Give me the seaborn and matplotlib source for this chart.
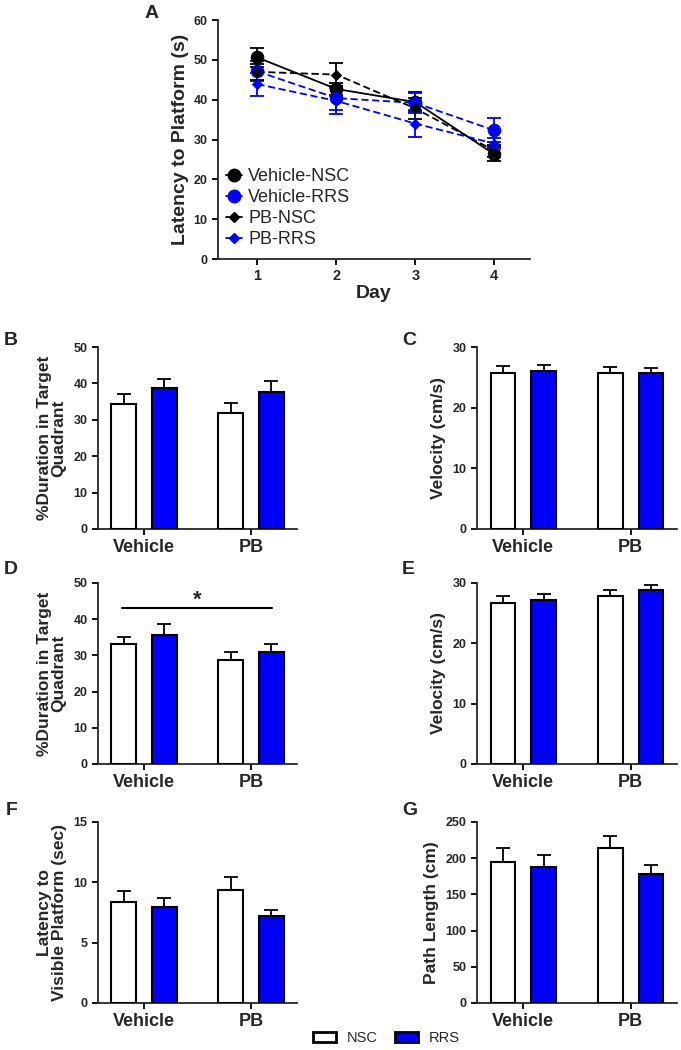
import numpy as np
import pandas as pd
import matplotlib
matplotlib.use("Agg")
import matplotlib.pyplot as plt
from matplotlib.patches import Patch
from matplotlib.lines import Line2D
import seaborn as sns

sns.set_style("ticks")
plt.rcParams["font.family"] = ["Liberation Sans", "DejaVu Sans"]
plt.rcParams["axes.linewidth"] = 1.3

BLUE = "#0000ff"

# ── Panel A: latency over days ───────────────────────────────────────────────
days = [1, 2, 3, 4]
groups_a = ["Vehicle-NSC", "Vehicle-RRS", "PB-NSC", "PB-RRS"]
veh_nsc     = [50.6, 42.7, 39.4, 26.3]
veh_nsc_err = [2.4, 1.5, 2.6, 1.8]
veh_rrs     = [47.1, 40.4, 39.2, 32.3]
veh_rrs_err = [2.5, 3.0, 2.6, 3.0]
pb_nsc      = [47.0, 46.3, 37.8, 27.2]
pb_nsc_err  = [2.0, 2.8, 2.6, 1.5]
pb_rrs      = [43.9, 39.7, 34.0, 29.0]
pb_rrs_err  = [2.9, 3.2, 3.3, 1.4]

# ── Bar panels ───────────────────────────────────────────────────────────────
treatments = ["Vehicle", "PB"]
conds = ["NSC", "RRS"]
b_nsc, b_nsc_err = [34.4, 31.8], [2.7, 2.8]
b_rrs, b_rrs_err = [38.8, 37.6], [2.5, 3.0]
c_nsc, c_nsc_err = [25.7, 25.7], [1.1, 1.05]
c_rrs, c_rrs_err = [26.1, 25.65], [0.9, 0.85]
d_nsc, d_nsc_err = [33.2, 28.8], [1.9, 2.1]
d_rrs, d_rrs_err = [35.5, 31.0], [3.1, 2.1]
e_nsc, e_nsc_err = [26.7, 27.8], [1.2, 1.1]
e_rrs, e_rrs_err = [27.1, 28.9], [1.1, 0.7]
f_nsc, f_nsc_err = [8.4, 9.34], [0.9, 1.1]
f_rrs, f_rrs_err = [7.93, 7.2], [0.8, 0.48]
g_nsc, g_nsc_err = [195.2, 214.0], [18.8, 16.0]
g_rrs, g_rrs_err = [187.4, 177.7], [16.6, 13.3]

fig = plt.figure(figsize=(6.81, 10.5), dpi=100)


def style_axis(ax, xsize, ysize):
    sns.despine(ax=ax)
    ax.tick_params(axis="both", direction="out", length=4, width=1.3, color="black")
    for lab in ax.get_xticklabels():
        lab.set_fontweight("bold"); lab.set_fontsize(xsize)
    for lab in ax.get_yticklabels():
        lab.set_fontweight("bold"); lab.set_fontsize(ysize)


# Panel A
axA = fig.add_axes([0.320, 0.7533, 0.458, 0.2276])
series = {"Vehicle-NSC": (veh_nsc, veh_nsc_err), "Vehicle-RRS": (veh_rrs, veh_rrs_err),
          "PB-NSC": (pb_nsc, pb_nsc_err), "PB-RRS": (pb_rrs, pb_rrs_err)}
dfA = pd.DataFrame([{"Day": d, "Latency": v, "Group": g}
                    for g, (vals, _) in series.items() for d, v in zip(days, vals)])
palA = {"Vehicle-NSC": "black", "Vehicle-RRS": BLUE, "PB-NSC": "black", "PB-RRS": BLUE}
markA = {"Vehicle-NSC": "o", "Vehicle-RRS": "o", "PB-NSC": "D", "PB-RRS": "D"}
sizeA = {"Vehicle-NSC": 9, "Vehicle-RRS": 9, "PB-NSC": 5.5, "PB-RRS": 5.5}
dashA = {"Vehicle-NSC": "", "Vehicle-RRS": (4, 2), "PB-NSC": (4, 2), "PB-RRS": (4, 2)}

for g, (vals, errs) in series.items():
    axA.errorbar(days, vals, yerr=errs, fmt="none", ecolor=palA[g],
                 elinewidth=1.3, capsize=5, capthick=1.3, zorder=2)
sns.lineplot(data=dfA, x="Day", y="Latency", hue="Group", style="Group",
             palette=palA, markers=markA, dashes=dashA, linewidth=1.3,
             legend=False, ax=axA, zorder=3)
for line, g in zip(axA.get_lines()[-4:], groups_a):
    line.set_markersize(sizeA[g])
    line.set_markeredgecolor(palA[g])

axA.set_xlim(0.5, 4.45)
axA.set_ylim(0, 60)
axA.set_xticks(days)
axA.set_yticks(range(0, 61, 10))
axA.set_xlabel("Day", fontsize=14, fontweight="bold", labelpad=1)
axA.set_ylabel("Latency to Platform (s)", fontsize=14, fontweight="bold", labelpad=3)
style_axis(axA, 10.5, 9)

handles = [Line2D([0], [0], color=palA[g], marker=markA[g], markersize=sizeA[g],
                  linewidth=1.3) for g in groups_a]
axA.legend(handles, groups_a, loc="lower left", bbox_to_anchor=(-0.01, 0.0),
           frameon=False, fontsize=13, handlelength=0.9, handletextpad=0.35,
           labelspacing=0.22, borderaxespad=0.2)


def bar_panel(rect, nsc, nsc_err, rrs, rrs_err, ymax, step, ylabel):
    ax = fig.add_axes(rect)
    df = pd.DataFrame({"Treatment": treatments * 2,
                       "Condition": ["NSC"] * 2 + ["RRS"] * 2,
                       "Value": nsc + rrs})
    sns.barplot(data=df, x="Treatment", y="Value", hue="Condition",
                palette={"NSC": "white", "RRS": BLUE}, saturation=1,
                edgecolor="black", linewidth=1.5, width=0.76, gap=0.4,
                errorbar=None, legend=False, ax=ax, zorder=3)
    for cont, errs in zip(ax.containers, [nsc_err, rrs_err]):
        for bar, e in zip(cont, errs):
            xc = bar.get_x() + bar.get_width() / 2
            ax.errorbar(xc, bar.get_height(), yerr=[[0], [e]], fmt="none",
                        ecolor="black", elinewidth=1.3, capsize=5, capthick=1.3,
                        zorder=2)
    ax.set_xlim(-0.43, 1.43)
    ax.set_ylim(0, ymax)
    ax.set_yticks(np.arange(0, ymax + 0.1, step))
    ax.set_xlabel("")
    ax.set_ylabel(ylabel, fontsize=12.5, fontweight="bold", labelpad=5,
                  linespacing=1.0)
    style_axis(ax, 13, 9)
    return ax


bar_panel([0.1439, 0.4962, 0.2922, 0.1733], b_nsc, b_nsc_err, b_rrs, b_rrs_err,
          50, 10, "%Duration in Target\nQuadrant")
bar_panel([0.7004, 0.4962, 0.2937, 0.1733], c_nsc, c_nsc_err, c_rrs, c_rrs_err,
          30, 10, "Velocity (cm/s)")
axD = bar_panel([0.1439, 0.2724, 0.2922, 0.1724], d_nsc, d_nsc_err, d_rrs, d_rrs_err,
                50, 10, "%Duration in Target\nQuadrant")
bar_panel([0.7004, 0.2724, 0.2937, 0.1724], e_nsc, e_nsc_err, e_rrs, e_rrs_err,
          30, 10, "Velocity (cm/s)")
bar_panel([0.1439, 0.0448, 0.2922, 0.1724], f_nsc, f_nsc_err, f_rrs, f_rrs_err,
          15, 5, "Latency to\nVisible Platform (sec)")
bar_panel([0.7004, 0.0448, 0.2937, 0.1724], g_nsc, g_nsc_err, g_rrs, g_rrs_err,
          250, 50, "Path Length (cm)")

# significance bar in D
axD.plot([-0.21, 1.2], [43.1, 43.1], color="black", lw=1.5)
axD.text(0.5, 42.3, "*", ha="center", va="bottom", fontsize=16, fontweight="bold")

# panel letters
for letter, x, y in [("A", 0.212, 0.995), ("B", 0.006, 0.684), ("C", 0.590, 0.684),
                     ("D", 0.006, 0.466), ("E", 0.590, 0.466),
                     ("F", 0.009, 0.236), ("G", 0.590, 0.236)]:
    fig.text(x, y, letter, fontsize=14, fontweight="bold", ha="left", va="top")

# bottom legend
leg_handles = [Patch(facecolor="white", edgecolor="black", linewidth=2),
               Patch(facecolor=BLUE, edgecolor="black", linewidth=2)]
fig.legend(leg_handles, conds, loc="center", bbox_to_anchor=(0.567, 0.0115),
           ncol=2, frameon=False, fontsize=10.5, handlelength=1.6,
           handleheight=0.7, handletextpad=0.7, columnspacing=1.2)

fig.savefig("out.png", dpi=100)
